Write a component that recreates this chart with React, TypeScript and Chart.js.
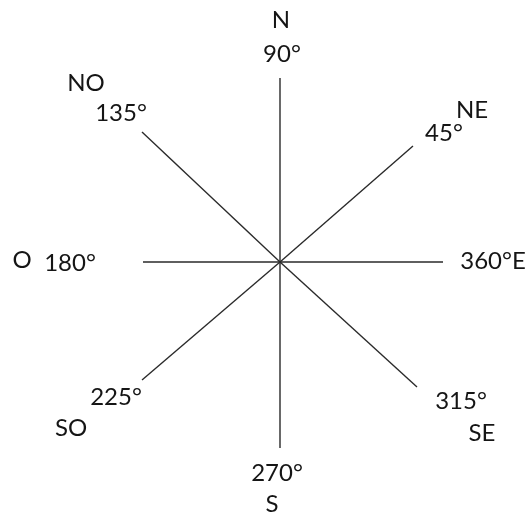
import React, { useEffect, useRef } from "react";
import { Chart, registerables } from "chart.js";

Chart.register(...registerables);

// Compass arms: end points relative to the centre (x right, y up)
const armNames = ["N", "S", "E", "O", "NE", "SO", "NO", "SE"];
const armX = [0, 0, 163, -137, 133, -138, -138, 137];
const armY = [184, -186, 0, 0, 116, -118, 130, -125];

// Labels
const labelTexts = ["N", "90°", "NO", "135°", "NE", "45°", "O", "180°", "360°E", "225°", "SO", "315°", "SE", "270°", "S"];
const labelX = [1, 2, -194, -159, 192, 164, -258, -210, 213, -164, -209, 181, 202, -3, -8];
const labelY = [242, 208, 179, 149, 152, 129, 2, -1, 1, -135, -166, -139, -171, -211, -242];

const labelPlugin = {
  id: "compassLabels",
  afterDatasetsDraw(chart: any) {
    const { ctx, scales } = chart;
    ctx.save();
    ctx.fillStyle = "#151515";
    ctx.font = "24px Lato, 'Open Sans', sans-serif";
    ctx.textAlign = "center";
    ctx.textBaseline = "middle";
    labelTexts.forEach((t, i) => {
      ctx.fillText(t, scales.x.getPixelForValue(labelX[i]), scales.y.getPixelForValue(labelY[i]));
    });
    ctx.restore();
  },
};

export default function App() {
  const ref = useRef<HTMLCanvasElement | null>(null);
  useEffect(() => {
    if (!ref.current) return;
    const datasets = armNames.map((name, i) => ({
      label: name,
      data: [
        { x: 0, y: 0 },
        { x: armX[i], y: armY[i] },
      ],
      showLine: true,
      borderColor: "#2a2a2a",
      borderWidth: 1.4,
      pointRadius: 0,
      fill: false,
    }));
    const chart = new Chart(ref.current, {
      type: "scatter",
      data: { datasets },
      options: {
        animation: false,
        responsive: true,
        maintainAspectRatio: false,
        layout: { padding: 0 },
        plugins: { legend: { display: false }, tooltip: { enabled: false } },
        scales: {
          x: { type: "linear", min: -280, max: 248, display: false },
          y: { type: "linear", min: -253, max: 262, display: false },
        },
      },
      plugins: [labelPlugin],
    });
    return () => chart.destroy();
  }, []);
  return (
    <div style={{ position: "fixed", left: 0, top: 0, width: 528, height: 515, background: "#fff" }}>
      <canvas ref={ref} />
    </div>
  );
}
